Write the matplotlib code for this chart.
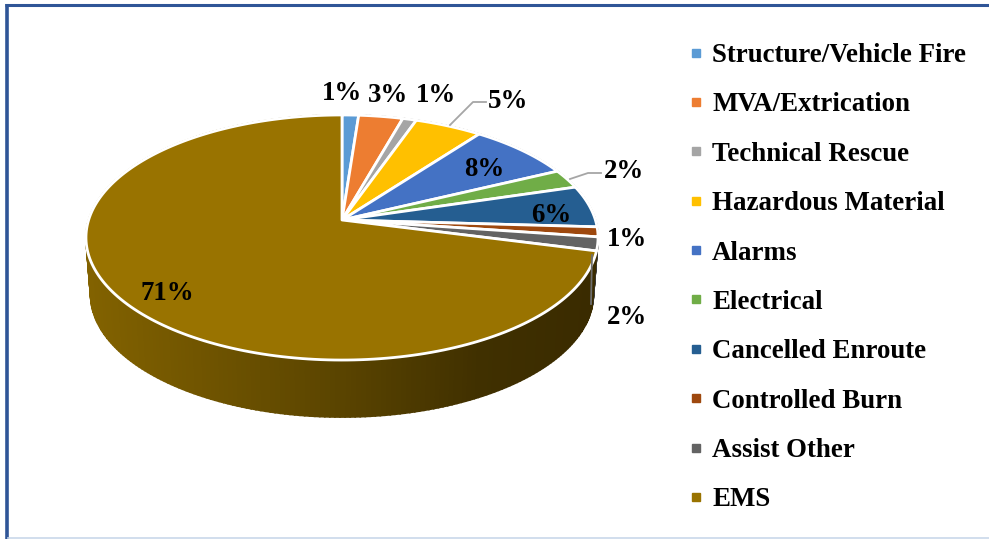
import matplotlib
matplotlib.use("Agg")
import matplotlib.pyplot as plt
from matplotlib.lines import Line2D
import numpy as np

categories = ["Structure/Vehicle Fire", "MVA/Extrication", "Technical Rescue", "Hazardous Material",
	"Alarms", "Electrical", "Cancelled Enroute", "Controlled Burn", "Assist Other", "EMS"]
values = [1.2, 3.2, 1.0, 4.9, 7.6, 2.5, 5.5, 1.3, 1.8, 71.0]
pct_labels = ["1%", "3%", "1%", "5%", "8%", "2%", "6%", "1%", "2%", "71%"]
colors = ["#5B9BD5", "#ED7D31", "#A5A5A5", "#FFC000", "#4472C4", "#70AD47", "#255E91", "#9E480E", "#636363", "#997300"]
label_pos = [(342, 94), (388, 95), (436, 95), (508, 101), (484, 170), (624, 171), (551, 216), (627, 240), (627, 317), (167, 293)]

# projected pie, the slices meet above the middle of the ellipse
cx, cy = 342.0, 220.0
R = 253.4
A, C = 88.6, -0.1429
depth = 57.0

def rim(phi):
	# phi in degrees, clockwise from the top
	u = np.sin(np.radians(phi))
	w = -np.cos(np.radians(phi))
	return cx + R*u/(1 + C*w), (A*w + cy)/(1 + C*w)

def side_color(x):
	stops = [88, 340, 480, 592]
	r = np.interp(x, stops, [0x82, 0x5A, 0x40, 0x3A])
	g = np.interp(x, stops, [0x62, 0x44, 0x30, 0x2B])
	return (r/255, g/255, 0.0)

fig = plt.figure(figsize=(9.89, 5.39), dpi=100)
ax = fig.add_axes([0, 0, 1, 1])
ax.set_xlim(0, 989)
ax.set_ylim(539, 0)
ax.axis("off")

edges = 3.6*np.cumsum([0] + values)

# side wall, drawn in strips with some overlap so no seams show
for i in range(len(values)):
	phis = np.arange(edges[i], edges[i+1] + 1.0, 1.0)
	for a, b in zip(phis[:-1], phis[1:]):
		xa, ya = rim(a)
		xb, yb = rim(b)
		xa2 = cx + (xa - cx)*0.982
		xb2 = cx + (xb - cx)*0.982
		if i == 9:
			c = side_color((xa + xb)/2)
		else:
			c = "#3A3A3A"
		ax.fill([xa, xb, xb2, xa2], [ya, yb, yb + depth, ya + depth], color=c, lw=1.2, zorder=1)

# top slices
for i in range(len(values)):
	phis = np.linspace(edges[i], edges[i+1], 200)
	x, y = rim(phis)
	ax.fill(np.r_[cx, x], np.r_[cy, y], facecolor=colors[i], edgecolor="white", lw=2.0, joinstyle="round", zorder=2)

# leader lines
ax.plot([450, 473, 486], [125, 102, 102], color="#A6A6A6", lw=1.3, zorder=3)
ax.plot([570, 588, 601], [179, 173, 173], color="#A6A6A6", lw=1.3, zorder=3)
ax.plot([592, 591], [255, 304], color="#6E6E6E", lw=1.3, zorder=3)

for lab, (x, y) in zip(pct_labels, label_pos):
	ax.text(x, y, lab, ha="center", va="center", fontsize=19.4, fontweight="bold",
		family="Liberation Serif", color="black", zorder=4)

handles = [Line2D([], [], ls="", marker="s", ms=5.8, color=c) for c in colors]
ax.legend(handles, categories, loc="upper left", bbox_to_anchor=(688/989, 1 - 43/539), frameon=False,
	prop={"family": "Liberation Serif", "weight": "bold", "size": 19.4},
	labelspacing=0.905, handletextpad=0.3, handlelength=0.6, borderpad=0, borderaxespad=0)

# frame round the picture
ax.plot([6.5, 6.5], [4, 539], color="#2F5597", lw=2.6, solid_capstyle="butt")
ax.plot([4.5, 989], [5, 5], color="#2F5597", lw=2.2, solid_capstyle="butt")
ax.plot([8, 989], [537.5, 537.5], color="#C9D8EA", lw=1.2)

fig.savefig("out.png", dpi=100)
